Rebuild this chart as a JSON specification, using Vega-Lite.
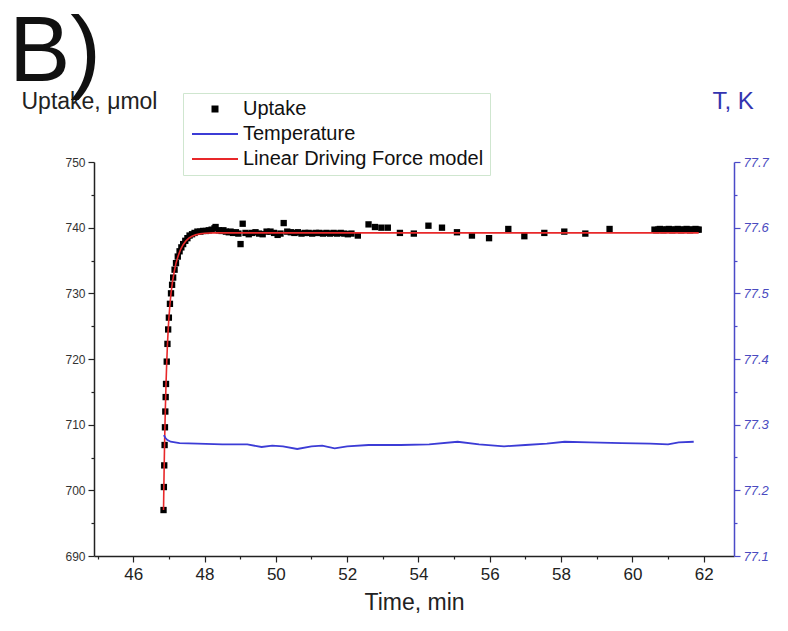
{
  "$schema": "https://vega.github.io/schema/vega-lite/v6.json",
  "width": 640,
  "height": 394,
  "autosize": {"type": "none"},
  "padding": {"left": 94, "top": 162, "right": 54, "bottom": 75},
  "background": "white",
  "config": {
    "view": {"stroke": null},
    "font": "Liberation Sans",
    "axis": {"grid": false, "labelFont": "Liberation Sans", "titleFont": "Liberation Sans", "titleFontWeight": "normal"}
  },
  "title": {"text": "B)", "anchor": "start", "frame": "group", "fontSize": 92, "fontWeight": "normal", "font": "Liberation Sans", "color": "#111", "dx": -85, "dy": 11, "offset": 0},
  "data": {"values": [
    {"series": "Uptake", "time": 46.85, "value": 697.0},
    {"series": "Uptake", "time": 46.86, "value": 700.5},
    {"series": "Uptake", "time": 46.87, "value": 703.8},
    {"series": "Uptake", "time": 46.88, "value": 706.9},
    {"series": "Uptake", "time": 46.89, "value": 709.6},
    {"series": "Uptake", "time": 46.90, "value": 712.0},
    {"series": "Uptake", "time": 46.91, "value": 714.2},
    {"series": "Uptake", "time": 46.92, "value": 716.2},
    {"series": "Uptake", "time": 46.94, "value": 719.6},
    {"series": "Uptake", "time": 46.96, "value": 722.3},
    {"series": "Uptake", "time": 46.98, "value": 724.5},
    {"series": "Uptake", "time": 47.00, "value": 726.3},
    {"series": "Uptake", "time": 47.03, "value": 728.4},
    {"series": "Uptake", "time": 47.06, "value": 730.0},
    {"series": "Uptake", "time": 47.09, "value": 731.3},
    {"series": "Uptake", "time": 47.12, "value": 732.4},
    {"series": "Uptake", "time": 47.16, "value": 733.6},
    {"series": "Uptake", "time": 47.20, "value": 734.6},
    {"series": "Uptake", "time": 47.25, "value": 735.6},
    {"series": "Uptake", "time": 47.30, "value": 736.4},
    {"series": "Uptake", "time": 47.35, "value": 737.0},
    {"series": "Uptake", "time": 47.40, "value": 737.5},
    {"series": "Uptake", "time": 47.46, "value": 738.0},
    {"series": "Uptake", "time": 47.52, "value": 738.4},
    {"series": "Uptake", "time": 47.58, "value": 738.8},
    {"series": "Uptake", "time": 47.65, "value": 739.0},
    {"series": "Uptake", "time": 47.72, "value": 739.2},
    {"series": "Uptake", "time": 47.80, "value": 739.4},
    {"series": "Uptake", "time": 47.88, "value": 739.4},
    {"series": "Uptake", "time": 47.96, "value": 739.5},
    {"series": "Uptake", "time": 48.04, "value": 739.5},
    {"series": "Uptake", "time": 48.12, "value": 739.6},
    {"series": "Uptake", "time": 48.20, "value": 739.7},
    {"series": "Uptake", "time": 48.28, "value": 739.9},
    {"series": "Uptake", "time": 48.31, "value": 740.1},
    {"series": "Uptake", "time": 48.40, "value": 739.6},
    {"series": "Uptake", "time": 48.48, "value": 739.5},
    {"series": "Uptake", "time": 48.53, "value": 739.6},
    {"series": "Uptake", "time": 48.60, "value": 739.4},
    {"series": "Uptake", "time": 48.68, "value": 739.3},
    {"series": "Uptake", "time": 48.73, "value": 739.4},
    {"series": "Uptake", "time": 48.80, "value": 739.2},
    {"series": "Uptake", "time": 48.88, "value": 739.3},
    {"series": "Uptake", "time": 48.95, "value": 739.1},
    {"series": "Uptake", "time": 49.01, "value": 737.5},
    {"series": "Uptake", "time": 49.07, "value": 740.6},
    {"series": "Uptake", "time": 49.15, "value": 739.2},
    {"series": "Uptake", "time": 49.24, "value": 739.0},
    {"series": "Uptake", "time": 49.33, "value": 739.2},
    {"series": "Uptake", "time": 49.43, "value": 739.3},
    {"series": "Uptake", "time": 49.53, "value": 739.1},
    {"series": "Uptake", "time": 49.63, "value": 739.0},
    {"series": "Uptake", "time": 49.74, "value": 739.4},
    {"series": "Uptake", "time": 49.85, "value": 739.4},
    {"series": "Uptake", "time": 49.95, "value": 739.2},
    {"series": "Uptake", "time": 50.05, "value": 738.9},
    {"series": "Uptake", "time": 50.13, "value": 739.1},
    {"series": "Uptake", "time": 50.22, "value": 740.7},
    {"series": "Uptake", "time": 50.32, "value": 739.4},
    {"series": "Uptake", "time": 50.42, "value": 739.3},
    {"series": "Uptake", "time": 50.52, "value": 739.2},
    {"series": "Uptake", "time": 50.62, "value": 739.3},
    {"series": "Uptake", "time": 50.72, "value": 739.1},
    {"series": "Uptake", "time": 50.82, "value": 739.2},
    {"series": "Uptake", "time": 50.92, "value": 739.2},
    {"series": "Uptake", "time": 51.02, "value": 739.1},
    {"series": "Uptake", "time": 51.12, "value": 739.2},
    {"series": "Uptake", "time": 51.22, "value": 739.2},
    {"series": "Uptake", "time": 51.32, "value": 739.1},
    {"series": "Uptake", "time": 51.42, "value": 739.2},
    {"series": "Uptake", "time": 51.52, "value": 739.1},
    {"series": "Uptake", "time": 51.62, "value": 739.2},
    {"series": "Uptake", "time": 51.72, "value": 739.1},
    {"series": "Uptake", "time": 51.82, "value": 739.2},
    {"series": "Uptake", "time": 51.92, "value": 739.1},
    {"series": "Uptake", "time": 52.02, "value": 739.0},
    {"series": "Uptake", "time": 52.12, "value": 739.1},
    {"series": "Uptake", "time": 52.30, "value": 738.8},
    {"series": "Uptake", "time": 52.60, "value": 740.5},
    {"series": "Uptake", "time": 52.78, "value": 740.1},
    {"series": "Uptake", "time": 52.96, "value": 740.0},
    {"series": "Uptake", "time": 53.14, "value": 740.0},
    {"series": "Uptake", "time": 53.48, "value": 739.2},
    {"series": "Uptake", "time": 53.87, "value": 739.1},
    {"series": "Uptake", "time": 54.28, "value": 740.3},
    {"series": "Uptake", "time": 54.66, "value": 740.0},
    {"series": "Uptake", "time": 55.08, "value": 739.3},
    {"series": "Uptake", "time": 55.50, "value": 738.8},
    {"series": "Uptake", "time": 55.98, "value": 738.4},
    {"series": "Uptake", "time": 56.52, "value": 739.8},
    {"series": "Uptake", "time": 56.97, "value": 738.7},
    {"series": "Uptake", "time": 57.53, "value": 739.2},
    {"series": "Uptake", "time": 58.09, "value": 739.4},
    {"series": "Uptake", "time": 58.68, "value": 739.1},
    {"series": "Uptake", "time": 59.36, "value": 739.8},
    {"series": "Uptake", "time": 60.62, "value": 739.7},
    {"series": "Uptake", "time": 60.67, "value": 739.6},
    {"series": "Uptake", "time": 60.72, "value": 739.7},
    {"series": "Uptake", "time": 60.77, "value": 739.8},
    {"series": "Uptake", "time": 60.82, "value": 739.7},
    {"series": "Uptake", "time": 60.87, "value": 739.6},
    {"series": "Uptake", "time": 60.92, "value": 739.7},
    {"series": "Uptake", "time": 60.97, "value": 739.7},
    {"series": "Uptake", "time": 61.02, "value": 739.8},
    {"series": "Uptake", "time": 61.07, "value": 739.7},
    {"series": "Uptake", "time": 61.12, "value": 739.6},
    {"series": "Uptake", "time": 61.17, "value": 739.7},
    {"series": "Uptake", "time": 61.22, "value": 739.7},
    {"series": "Uptake", "time": 61.27, "value": 739.8},
    {"series": "Uptake", "time": 61.32, "value": 739.7},
    {"series": "Uptake", "time": 61.37, "value": 739.6},
    {"series": "Uptake", "time": 61.42, "value": 739.7},
    {"series": "Uptake", "time": 61.47, "value": 739.7},
    {"series": "Uptake", "time": 61.52, "value": 739.8},
    {"series": "Uptake", "time": 61.57, "value": 739.7},
    {"series": "Uptake", "time": 61.62, "value": 739.6},
    {"series": "Uptake", "time": 61.67, "value": 739.7},
    {"series": "Uptake", "time": 61.72, "value": 739.7},
    {"series": "Uptake", "time": 61.77, "value": 739.8},
    {"series": "Uptake", "time": 61.82, "value": 739.7},
    {"series": "Uptake", "time": 61.86, "value": 739.7},
    {"series": "Linear Driving Force model", "time": 46.85, "value": 697.0},
    {"series": "Linear Driving Force model", "time": 46.86, "value": 700.8},
    {"series": "Linear Driving Force model", "time": 46.87, "value": 704.2},
    {"series": "Linear Driving Force model", "time": 46.88, "value": 707.2},
    {"series": "Linear Driving Force model", "time": 46.89, "value": 709.8},
    {"series": "Linear Driving Force model", "time": 46.90, "value": 712.2},
    {"series": "Linear Driving Force model", "time": 46.92, "value": 716.2},
    {"series": "Linear Driving Force model", "time": 46.94, "value": 719.5},
    {"series": "Linear Driving Force model", "time": 46.96, "value": 722.2},
    {"series": "Linear Driving Force model", "time": 46.98, "value": 724.4},
    {"series": "Linear Driving Force model", "time": 47.00, "value": 726.2},
    {"series": "Linear Driving Force model", "time": 47.03, "value": 728.3},
    {"series": "Linear Driving Force model", "time": 47.06, "value": 730.0},
    {"series": "Linear Driving Force model", "time": 47.10, "value": 731.7},
    {"series": "Linear Driving Force model", "time": 47.15, "value": 733.3},
    {"series": "Linear Driving Force model", "time": 47.20, "value": 734.6},
    {"series": "Linear Driving Force model", "time": 47.26, "value": 735.7},
    {"series": "Linear Driving Force model", "time": 47.33, "value": 736.7},
    {"series": "Linear Driving Force model", "time": 47.40, "value": 737.4},
    {"series": "Linear Driving Force model", "time": 47.48, "value": 738.0},
    {"series": "Linear Driving Force model", "time": 47.56, "value": 738.4},
    {"series": "Linear Driving Force model", "time": 47.65, "value": 738.7},
    {"series": "Linear Driving Force model", "time": 47.75, "value": 738.9},
    {"series": "Linear Driving Force model", "time": 47.87, "value": 739.05},
    {"series": "Linear Driving Force model", "time": 48.00, "value": 739.15},
    {"series": "Linear Driving Force model", "time": 48.25, "value": 739.2},
    {"series": "Linear Driving Force model", "time": 49.00, "value": 739.2},
    {"series": "Linear Driving Force model", "time": 61.86, "value": 739.2},
    {"series": "Temperature", "time": 46.86, "value": 77.284},
    {"series": "Temperature", "time": 46.90, "value": 77.280},
    {"series": "Temperature", "time": 46.95, "value": 77.277},
    {"series": "Temperature", "time": 47.05, "value": 77.274},
    {"series": "Temperature", "time": 47.30, "value": 77.272},
    {"series": "Temperature", "time": 47.80, "value": 77.271},
    {"series": "Temperature", "time": 48.50, "value": 77.270},
    {"series": "Temperature", "time": 49.20, "value": 77.270},
    {"series": "Temperature", "time": 49.60, "value": 77.266},
    {"series": "Temperature", "time": 49.90, "value": 77.268},
    {"series": "Temperature", "time": 50.20, "value": 77.267},
    {"series": "Temperature", "time": 50.60, "value": 77.263},
    {"series": "Temperature", "time": 51.00, "value": 77.267},
    {"series": "Temperature", "time": 51.30, "value": 77.268},
    {"series": "Temperature", "time": 51.65, "value": 77.264},
    {"series": "Temperature", "time": 52.00, "value": 77.267},
    {"series": "Temperature", "time": 52.60, "value": 77.269},
    {"series": "Temperature", "time": 53.50, "value": 77.269},
    {"series": "Temperature", "time": 54.30, "value": 77.270},
    {"series": "Temperature", "time": 55.10, "value": 77.274},
    {"series": "Temperature", "time": 55.70, "value": 77.270},
    {"series": "Temperature", "time": 56.40, "value": 77.267},
    {"series": "Temperature", "time": 57.00, "value": 77.269},
    {"series": "Temperature", "time": 57.60, "value": 77.271},
    {"series": "Temperature", "time": 58.10, "value": 77.274},
    {"series": "Temperature", "time": 58.80, "value": 77.273},
    {"series": "Temperature", "time": 59.70, "value": 77.272},
    {"series": "Temperature", "time": 60.50, "value": 77.271},
    {"series": "Temperature", "time": 61.00, "value": 77.270},
    {"series": "Temperature", "time": 61.30, "value": 77.273},
    {"series": "Temperature", "time": 61.72, "value": 77.274}
  ]},
  "encoding": {
    "x": {
      "field": "time", "type": "quantitative",
      "scale": {"domain": [44.9, 62.85], "nice": false, "zero": false},
      "axis": {
        "title": "Time, min", "titleFontSize": 23, "titleColor": "#222", "titlePadding": 9,
        "values": [45,46,47,48,49,50,51,52,53,54,55,56,57,58,59,60,61,62],
        "labelExpr": "datum.value % 2 === 0 ? datum.label : ''",
        "labelOverlap": false, "labelFontSize": 17, "labelColor": "#222", "labelPadding": 4,
        "domainColor": "#222", "domainWidth": 1.5, "tickColor": "#222", "tickWidth": 1.2,
        "tickSize": {"condition": {"test": "datum.value % 2 === 0", "value": 6}, "value": 3}
      }
    },
    "color": {
      "field": "series", "type": "nominal",
      "scale": {"domain": ["Uptake", "Temperature", "Linear Driving Force model"], "range": ["#000000", "#3c3cd6", "#e8282a"]},
      "legend": {
        "orient": "none", "legendX": 89, "legendY": -69, "title": null,
        "padding": 6, "strokeColor": "#cfe6cf", "fillColor": "white",
        "labelFontSize": 20, "labelFont": "Liberation Sans", "labelColor": "#111", "labelLimit": 500,
        "symbolSize": 400, "rowPadding": 5, "labelOffset": 34, "symbolType": "stroke",
        "encode": {"symbols": {"update": {
          "shape": {"signal": "datum.value === 'Uptake' ? 'M1.25,-0.35H1.95V0.35H1.25Z' : 'M-0.7,0H3.9'"},
          "size": {"value": 400},
          "fill": {"signal": "datum.value === 'Uptake' ? '#000000' : 'transparent'"},
          "stroke": {"signal": "datum.value === 'Uptake' ? '#000000' : (datum.value === 'Temperature' ? '#4040d8' : '#d9804a')"},
          "strokeWidth": {"signal": "datum.value === 'Uptake' ? 0 : 2"},
          "opacity": {"value": 1}
        }}}
      }
    }
  },
  "layer": [
    {
      "transform": [{"filter": "datum.series === 'Uptake'"}],
      "mark": {"type": "point", "shape": "square", "filled": true, "size": 40, "opacity": 1},
      "encoding": {
        "y": {
          "field": "value", "type": "quantitative",
          "scale": {"domain": [690, 750], "nice": false, "zero": false},
          "axis": {
            "orient": "left",
            "title": "Uptake, μmol", "titleFontSize": 23, "titleColor": "#222", "titleAngle": 0,
            "titleAlign": "left", "titleBaseline": "alphabetic", "titleX": -73, "titleY": -54,
            "values": [690,695,700,705,710,715,720,725,730,735,740,745,750],
            "labelExpr": "datum.value % 10 === 0 ? datum.label : ''",
            "labelOverlap": false, "labelFontSize": 12, "labelColor": "#333", "labelPadding": 3,
            "domainColor": "#222", "domainWidth": 1.5, "tickColor": "#222", "tickWidth": 1.2,
            "tickSize": {"condition": {"test": "datum.value % 10 === 0", "value": 6}, "value": 3}
          }
        }
      }
    },
    {
      "transform": [{"filter": "datum.series === 'Linear Driving Force model'"}],
      "mark": {"type": "line", "strokeWidth": 1.6},
      "encoding": {
        "y": {
          "field": "value", "type": "quantitative",
          "scale": {"domain": [690, 750], "nice": false, "zero": false},
          "axis": null
        }
      }
    },
    {
      "transform": [{"filter": "datum.series === 'Temperature'"}],
      "mark": {"type": "line", "strokeWidth": 1.8},
      "encoding": {
        "y": {
          "field": "value", "type": "quantitative",
          "scale": {"domain": [77.1, 77.7], "nice": false, "zero": false},
          "axis": {
            "orient": "right",
            "title": "T, K", "titleFontSize": 24, "titleColor": "#3434b0", "titleAngle": 0,
            "titleAlign": "left", "titleBaseline": "alphabetic", "titleX": -22, "titleY": -54,
            "values": [77.1,77.15,77.2,77.25,77.3,77.35,77.4,77.45,77.5,77.55,77.6,77.65,77.7],
            "labelExpr": "round(datum.value*100) % 10 === 0 ? format(datum.value, '.1f') : ''",
            "labelOverlap": false, "labelFontSize": 13, "labelFontStyle": "italic", "labelColor": "#4a4ac0", "labelPadding": 3,
            "domainColor": "#4a4ac8", "domainWidth": 1.5, "tickColor": "#4a4ac8", "tickWidth": 1.2,
            "tickSize": {"condition": {"test": "round(datum.value*100) % 10 === 0", "value": 6}, "value": 3}
          }
        }
      }
    }
  ],
  "resolve": {"scale": {"y": "independent"}, "axis": {"y": "independent"}}
}
